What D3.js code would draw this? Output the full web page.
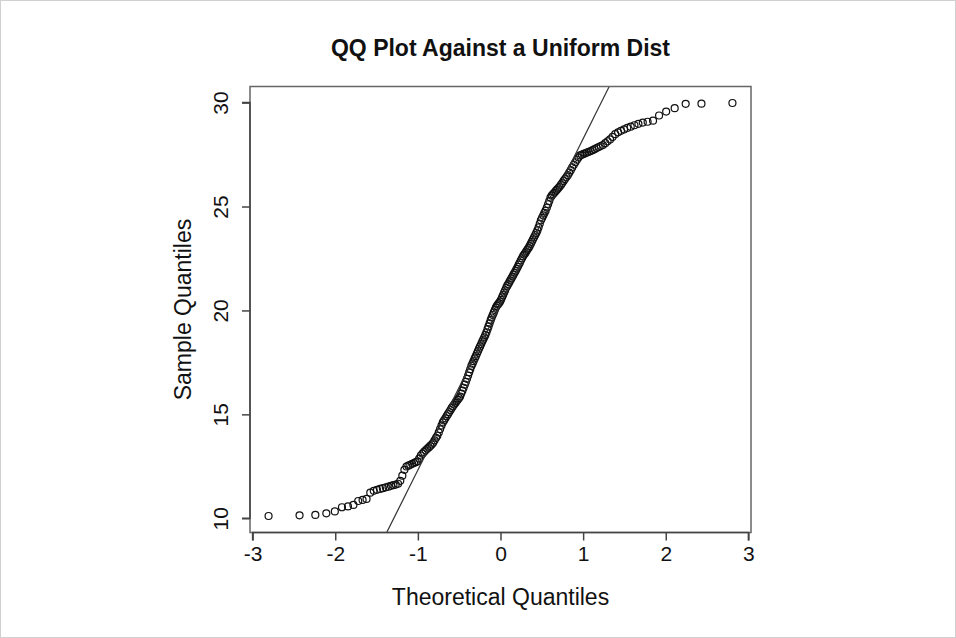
<!DOCTYPE html>
<html>
<head>
<meta charset="utf-8">
<script src="https://cdn.jsdelivr.net/npm/d3@7"></script>
<style>
  html, body { margin: 0; padding: 0; background: #fff; }
  svg { display: block; }
  text { font-family: "Liberation Sans", Arial, Helvetica, sans-serif; fill: #111; }
</style>
</head>
<body>
<svg id="chart" width="956" height="638"></svg>
<script>
// ---- data ----
const title = "QQ Plot Against a Uniform Dist";
const xLabel = "Theoretical Quantiles";
const yLabel = "Sample Quantiles";
const xTicks = [-3, -2, -1, 0, 1, 2, 3];
const yTicks = [10, 15, 20, 25, 30];

// theoretical normal quantiles (n = 200)
const theoretical = [
 -2.807,-2.432,-2.241,-2.108,-2.005,-1.919,-1.846,-1.780,-1.722,-1.669,
 -1.621,-1.576,-1.534,-1.495,-1.458,-1.423,-1.388,-1.356,-1.326,-1.296,
 -1.268,-1.240,-1.213,-1.188,-1.163,-1.138,-1.115,-1.092,-1.069,-1.047,
 -1.026,-1.005,-0.984,-0.964,-0.944,-0.925,-0.906,-0.887,-0.868,-0.850,
 -0.832,-0.815,-0.798,-0.780,-0.764,-0.747,-0.731,-0.714,-0.698,-0.683,
 -0.667,-0.651,-0.636,-0.620,-0.605,-0.590,-0.576,-0.561,-0.546,-0.532,
 -0.518,-0.503,-0.489,-0.475,-0.461,-0.447,-0.433,-0.420,-0.406,-0.392,
 -0.379,-0.366,-0.352,-0.339,-0.326,-0.312,-0.299,-0.286,-0.273,-0.260,
 -0.247,-0.234,-0.221,-0.209,-0.196,-0.183,-0.170,-0.157,-0.145,-0.132,
 -0.119,-0.107,-0.094,-0.082,-0.069,-0.056,-0.044,-0.031,-0.019,-0.006,
  0.006, 0.019, 0.031, 0.044, 0.056, 0.069, 0.082, 0.094, 0.107, 0.119,
  0.132, 0.145, 0.157, 0.170, 0.183, 0.196, 0.209, 0.221, 0.234, 0.247,
  0.260, 0.273, 0.286, 0.299, 0.312, 0.326, 0.339, 0.352, 0.366, 0.379,
  0.392, 0.406, 0.420, 0.433, 0.447, 0.461, 0.475, 0.489, 0.503, 0.518,
  0.532, 0.546, 0.561, 0.576, 0.590, 0.605, 0.620, 0.636, 0.651, 0.667,
  0.683, 0.698, 0.714, 0.731, 0.747, 0.764, 0.780, 0.798, 0.815, 0.832,
  0.850, 0.868, 0.887, 0.906, 0.925, 0.944, 0.964, 0.984, 1.005, 1.026,
  1.047, 1.069, 1.092, 1.115, 1.138, 1.163, 1.188, 1.213, 1.240, 1.268,
  1.296, 1.326, 1.356, 1.388, 1.423, 1.458, 1.495, 1.534, 1.576, 1.621,
  1.669, 1.722, 1.780, 1.846, 1.919, 2.005, 2.108, 2.241, 2.432, 2.807
];

// sorted sample values
const sample = [
 10.11,10.14,10.16,10.24,10.33,10.53,10.57,10.64,10.83,10.88,
 10.93,11.23,11.32,11.37,11.41,11.45,11.49,11.52,11.56,11.59,
 11.62,11.66,11.80,12.05,12.33,12.49,12.53,12.57,12.62,12.66,
 12.70,12.74,12.87,13.02,13.11,13.19,13.27,13.34,13.41,13.48,
 13.55,13.63,13.75,13.87,13.97,14.13,14.29,14.46,14.61,14.71,
 14.81,14.92,15.01,15.11,15.21,15.31,15.39,15.47,15.55,15.63,
 15.70,15.78,15.86,16.00,16.14,16.28,16.43,16.56,16.71,16.87,
 17.02,17.17,17.33,17.44,17.56,17.69,17.80,17.92,18.04,18.16,
 18.27,18.38,18.50,18.60,18.71,18.82,18.95,19.10,19.23,19.38,
 19.53,19.66,19.78,19.89,20.02,20.14,20.22,20.29,20.35,20.42,
 20.51,20.63,20.74,20.86,20.97,21.09,21.19,21.27,21.36,21.45,
 21.54,21.63,21.72,21.81,21.90,22.00,22.10,22.20,22.30,22.41,
 22.51,22.61,22.69,22.76,22.84,22.93,23.00,23.09,23.20,23.30,
 23.41,23.52,23.63,23.73,23.85,24.00,24.17,24.34,24.45,24.57,
 24.69,24.80,24.95,25.11,25.26,25.43,25.52,25.60,25.66,25.74,
 25.81,25.88,25.95,26.04,26.13,26.23,26.32,26.42,26.51,26.63,
 26.75,26.88,27.01,27.13,27.25,27.36,27.46,27.49,27.53,27.56,
 27.60,27.63,27.67,27.71,27.76,27.81,27.86,27.91,27.96,28.05,
 28.14,28.23,28.35,28.48,28.57,28.64,28.71,28.78,28.84,28.91,
 28.98,29.04,29.08,29.13,29.38,29.57,29.73,29.94,29.95,29.98
];

// reference line (qqline): intercept and slope
const lineIntercept = 20.29;
const lineSlope = 7.97;

// ---- layout ----
const svg = d3.select("#chart");
const W = 956, H = 638;
const plot = { left: 250, right: 751, top: 86.5, bottom: 532.5 };

const x = d3.scaleLinear().domain([-3.0316, 3.0316]).range([plot.left, plot.right]);
const y = d3.scaleLinear().domain([9.315, 30.775]).range([plot.bottom, plot.top]);

// outer frame
svg.append("rect").attr("x", 0.5).attr("y", 0.5).attr("width", W - 1).attr("height", H - 1)
  .attr("fill", "#fff").attr("stroke", "#d0d0d0");

// clip for abline
svg.append("clipPath").attr("id", "clip").append("rect")
  .attr("x", plot.left).attr("y", plot.top)
  .attr("width", plot.right - plot.left).attr("height", plot.bottom - plot.top);

// points
const pts = theoretical.map((t, i) => ({ t, s: sample[i] }));
svg.append("g").selectAll("circle").data(pts).join("circle")
  .attr("cx", d => x(d.t)).attr("cy", d => y(d.s)).attr("r", 3.5)
  .attr("fill", "none").attr("stroke", "#111").attr("stroke-width", 1.2);

// qq line
const xd = x.domain();
svg.append("line").attr("clip-path", "url(#clip)")
  .attr("x1", x(xd[0])).attr("y1", y(lineIntercept + lineSlope * xd[0]))
  .attr("x2", x(xd[1])).attr("y2", y(lineIntercept + lineSlope * xd[1]))
  .attr("stroke", "#333").attr("stroke-width", 1.2);

// box
svg.append("rect").attr("x", plot.left).attr("y", plot.top)
  .attr("width", plot.right - plot.left).attr("height", plot.bottom - plot.top)
  .attr("fill", "none").attr("stroke", "#666").attr("stroke-width", 1.5);

// x axis
const xAxis = d3.axisBottom(x).tickValues(xTicks).tickSize(8).tickPadding(6)
  .tickFormat(d => d < 0 ? "-" + Math.abs(d) : String(d));
const gx = svg.append("g").attr("transform", `translate(0,${plot.bottom})`).call(xAxis);
gx.select(".domain").attr("stroke", "#444").attr("stroke-width", 1.5)
  .attr("d", `M${x(xTicks[0])},8V0H${x(xTicks[xTicks.length-1])}V8`);
gx.selectAll(".tick line").attr("stroke", "#444").attr("stroke-width", 1.5);
gx.selectAll(".tick text").attr("font-size", 21).attr("fill", "#111")
  .attr("font-family", "Liberation Sans, Arial, sans-serif");

// y axis
const yAxis = d3.axisLeft(y).tickValues(yTicks).tickSize(8).tickFormat(d3.format("d"));
const gy = svg.append("g").attr("transform", `translate(${plot.left},0)`).call(yAxis);
gy.select(".domain").attr("stroke", "#444").attr("stroke-width", 1.5)
  .attr("d", `M-8,${y(yTicks[0])}H0V${y(yTicks[yTicks.length-1])}H-8`);
gy.selectAll(".tick line").attr("stroke", "#444").attr("stroke-width", 1.5);
gy.selectAll(".tick text")
  .attr("font-size", 21).attr("fill", "#111")
  .attr("font-family", "Liberation Sans, Arial, sans-serif")
  .attr("x", null).attr("dy", null)
  .attr("text-anchor", "middle")
  .attr("transform", "translate(-22,0) rotate(-90)");

// title & labels
svg.append("text").attr("x", (plot.left + plot.right) / 2).attr("y", 56)
  .attr("text-anchor", "middle").attr("font-size", 23).attr("font-weight", "bold")
  .text(title);
svg.append("text").attr("x", (plot.left + plot.right) / 2).attr("y", 605)
  .attr("text-anchor", "middle").attr("font-size", 23).text(xLabel);
svg.append("text")
  .attr("transform", `translate(191,${(plot.top + plot.bottom) / 2}) rotate(-90)`)
  .attr("text-anchor", "middle").attr("font-size", 23).text(yLabel);
</script>
</body>
</html>
